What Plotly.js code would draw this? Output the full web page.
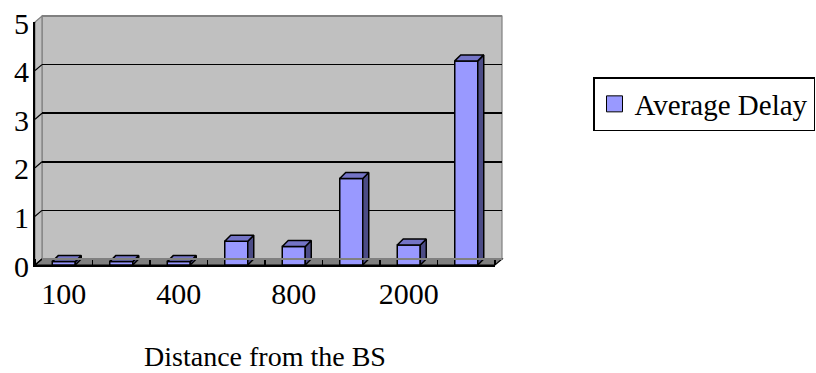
<!DOCTYPE html>
<html>
<head>
<meta charset="utf-8">
<script src="https://cdn.plot.ly/plotly-3.0.1.min.js"></script>
<style>
  html, body { margin: 0; padding: 0; background: #ffffff; }
  #chart { width: 816px; height: 373px; }
</style>
</head>
<body>
<div id="chart"></div>
<script>
// Average delay by distance from the base station
const distances = ['100', '200', '400', '600', '800', '1000', '2000', '3000'];
const avgDelay  = [0.07, 0.07, 0.07, 0.49, 0.38, 1.78, 0.41, 4.2];
const yTicks    = [0, 1, 2, 3, 4, 5];
const seriesName = 'Average Delay';

// ---- geometry of the pseudo-3D box (pixels) ----
const W = 816, H = 373;
const M = { l: 35, r: 314, t: 16, b: 108 };
const PW = W - M.l - M.r;          // plot width
const PH = H - M.t - M.b;          // plot height
const DEPTH_PX_X = 7, DEPTH_PX_Y = 6;  // offset of the back wall
const BAR_PX_X = 6, BAR_PX_Y = 6;      // depth of each bar
const nCat = distances.length;
const yMax = 5;

const frontW = PW - DEPTH_PX_X, frontH = PH - DEPTH_PX_Y;
const pxPerCat = frontW / nCat, pxPerUnit = frontH / yMax;
const WALL_DX = DEPTH_PX_X / pxPerCat, WALL_DY = DEPTH_PX_Y / pxPerUnit;
const BAR_DX = BAR_PX_X / pxPerCat, BAR_DY = BAR_PX_Y / pxPerUnit;
const BAR_W = 0.4;

// front-plane data -> paper fractions
const fx = x => (x + 0.5) / nCat * (frontW / PW);
const fy = y => y / yMax * (frontH / PH);

const FONT = 'Liberation Serif, Times New Roman, serif';
const C_FRONT = '#9999ff', C_TOP = '#7474c6', C_SIDE = '#4c4c86';

// side and top faces of each bar, built from the values
const sideX = [], sideY = [], topX = [], topY = [];
avgDelay.forEach((v, i) => {
  const x1 = i + BAR_W / 2, x0 = i - BAR_W / 2;
  sideX.push(x1, x1 + BAR_DX, x1 + BAR_DX, x1, x1, null);
  sideY.push(0, BAR_DY, v + BAR_DY, v, 0, null);
  topX.push(x0, x1, x1 + BAR_DX, x0 + BAR_DX, x0, null);
  topY.push(v, v, v + BAR_DY, v + BAR_DY, v, null);
});

// diagonal tick marks across the left wall
const tkX = [], tkY = [];
yTicks.forEach(t => {
  tkX.push(-0.5, -0.5 + WALL_DX, null);
  tkY.push(t, t + WALL_DY, null);
});

const traces = [
  { // empty trace so the back-plane subplot (grid + value labels) is drawn
    type: 'scatter', mode: 'lines', x: [null], y: [null], xaxis: 'x', yaxis: 'y',
    showlegend: false, hoverinfo: 'skip'
  },
  {
    type: 'bar', x: distances.map((_, i) => i), y: avgDelay,
    xaxis: 'x2', yaxis: 'y2', width: BAR_W,
    marker: { color: C_FRONT, line: { color: '#000', width: 1.5 } },
    showlegend: false, hoverinfo: 'skip'
  },
  {
    type: 'scatter', mode: 'lines', x: sideX, y: sideY, xaxis: 'x2', yaxis: 'y2',
    fill: 'toself', fillcolor: C_SIDE, line: { color: '#000', width: 1.5 },
    showlegend: false, hoverinfo: 'skip', cliponaxis: false
  },
  {
    type: 'scatter', mode: 'lines', x: topX, y: topY, xaxis: 'x2', yaxis: 'y2',
    fill: 'toself', fillcolor: C_TOP, line: { color: '#000', width: 1.5 },
    showlegend: false, hoverinfo: 'skip', cliponaxis: false
  },
  {
    type: 'scatter', mode: 'lines', x: tkX, y: tkY, xaxis: 'x2', yaxis: 'y2',
    line: { color: '#000', width: 1.2 }, showlegend: false, hoverinfo: 'skip',
    cliponaxis: false
  },
  {
    type: 'scatter', mode: 'markers', x: [null], y: [null], xaxis: 'x2', yaxis: 'y2',
    name: seriesName,
    marker: { symbol: 'square', size: 18, color: C_FRONT, line: { color: '#000', width: 1 } }
  }
];

// walls and floor
const X0 = -0.5, X1 = nCat - 0.5;
const poly = pts => 'M' + pts.map(p => fx(p[0]) + ',' + fy(p[1])).join('L') + 'Z';
const seg = (a, b) => 'M' + fx(a[0]) + ',' + fy(a[1]) + 'L' + fx(b[0]) + ',' + fy(b[1]);
const shapes = [
  { // back wall
    type: 'path', xref: 'paper', yref: 'paper', layer: 'below',
    path: poly([[X0 + WALL_DX, WALL_DY], [X1 + WALL_DX, WALL_DY], [X1 + WALL_DX, yMax + WALL_DY], [X0 + WALL_DX, yMax + WALL_DY]]),
    fillcolor: '#c0c0c0', line: { color: '#808080', width: 1.2 }
  },
  { // left wall
    type: 'path', xref: 'paper', yref: 'paper', layer: 'below',
    path: poly([[X0, 0], [X0 + WALL_DX, WALL_DY], [X0 + WALL_DX, yMax + WALL_DY], [X0, yMax]]),
    fillcolor: '#c0c0c0', line: { color: '#808080', width: 1.2 }
  },
  { // floor
    type: 'path', xref: 'paper', yref: 'paper', layer: 'below',
    path: poly([[X0, 0], [X1, 0], [X1 + WALL_DX, WALL_DY], [X0 + WALL_DX, WALL_DY]]),
    fillcolor: '#808080', line: { color: '#000', width: 1.2 }
  },
  { // grey top edge of the back wall
    type: 'path', xref: 'paper', yref: 'paper', layer: 'above',
    path: seg([X0 + WALL_DX, yMax + WALL_DY], [X1 + WALL_DX, yMax + WALL_DY]),
    line: { color: '#808080', width: 2 }
  },
  { // grey back edge of the floor
    type: 'path', xref: 'paper', yref: 'paper', layer: 'above',
    path: seg([X0 + WALL_DX, WALL_DY], [X1 + WALL_DX, WALL_DY]),
    line: { color: '#808080', width: 2 }
  }
];

const layout = {
  width: W, height: H,
  margin: M,
  paper_bgcolor: '#ffffff',
  plot_bgcolor: 'rgba(0,0,0,0)',
  font: { family: FONT, color: '#000' },
  showlegend: true,
  shapes: shapes,
  // back plane: grid lines and value labels
  xaxis: {
    domain: [DEPTH_PX_X / PW, 1], range: [X0, X1], anchor: 'y',
    showgrid: false, zeroline: false, showline: false, showticklabels: false, ticks: ''
  },
  yaxis: {
    domain: [DEPTH_PX_Y / PH, 1], range: [0, yMax], anchor: 'x',
    tickmode: 'array', tickvals: yTicks, ticks: '',
    showgrid: true, gridcolor: '#000', gridwidth: 1.5,
    zeroline: false, showline: false, showticklabels: true,
    tickfont: { family: FONT, size: 30, color: '#000' },
    ticklabelstandoff: 12, ticklabelshift: 7, ticklabeloverflow: 'allow'
  },
  // front plane: bars, axis lines and category labels
  xaxis2: {
    domain: [0, frontW / PW], range: [X0, X1], anchor: 'y2',
    tickmode: 'array',
    tickvals: distances.map((_, i) => i).filter(i => i % 2 === 0),
    ticktext: distances.filter((_, i) => i % 2 === 0),
    ticks: '', showgrid: false, zeroline: false,
    showline: true, linecolor: '#000', linewidth: 2,
    minor: { tick0: 0.5, dtick: 1, ticks: 'inside', ticklen: 6, tickcolor: '#000', tickwidth: 1.2, showgrid: false },
    tickfont: { family: FONT, size: 30, color: '#000' },
    ticklabelstandoff: 1,
    title: { text: 'Distance from the BS', font: { family: FONT, size: 28, color: '#000' }, standoff: 37 }
  },
  yaxis2: {
    domain: [0, frontH / PH], range: [0, yMax], anchor: 'x2',
    showticklabels: false, ticks: '', showgrid: false, zeroline: false,
    showline: true, linecolor: '#000', linewidth: 2
  },
  legend: {
    xref: 'container', yref: 'container',
    x: 593 / W, y: 1 - 77 / H, xanchor: 'left', yanchor: 'top',
    bgcolor: '#ffffff', bordercolor: '#000', borderwidth: 1.5,
    font: { family: FONT, size: 29, color: '#000' }
  }
};

Plotly.newPlot('chart', traces, layout, { displayModeBar: false, staticPlot: true });
</script>
</body>
</html>
